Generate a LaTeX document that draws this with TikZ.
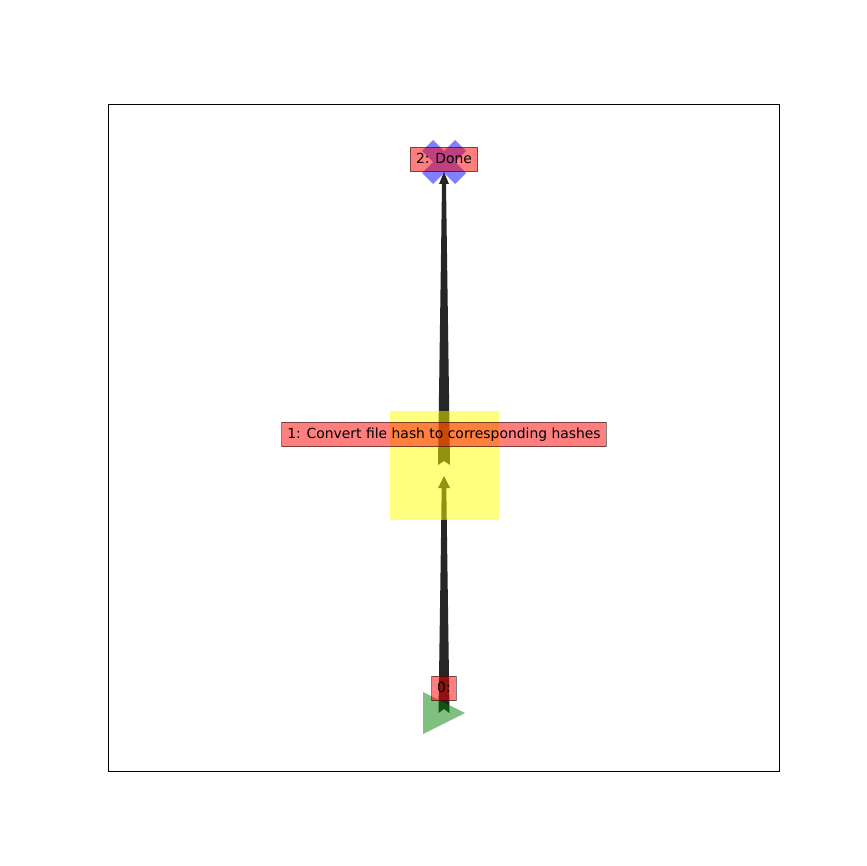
\documentclass[tikz,border=0pt]{standalone}
\usepackage{fontspec}
\setmainfont{DejaVu Sans}
\usetikzlibrary{calc}

\definecolor{mplred}{RGB}{255,0,0}
\definecolor{mplgreen}{RGB}{0,128,0}
\definecolor{mplyellow}{RGB}{255,255,0}
\definecolor{mplblue}{RGB}{0,0,255}

\tikzset{
  lbl/.style={fill=mplred, fill opacity=0.5, draw=black, draw opacity=0.5,
    text opacity=1, line width=1pt, inner xsep=5.6pt, inner ysep=5.5pt,
    text height=10.6pt, text depth=3.3pt, font=\fontsize{13.9}{16}\selectfont},
  edgefill/.style={fill=black!85},
  startmark/.style={fill=mplgreen, fill opacity=0.5},
  stepmark/.style={fill=mplyellow, fill opacity=0.5},
  endmark/.style={fill=mplblue, fill opacity=0.5}
}

\begin{document}
\begin{tikzpicture}[x=1pt,y=-1pt]
    \useasboundingbox[fill=white] (0,0) rectangle (866,866);

    % axes frame
    \draw[line width=0.9pt] (108,104) rectangle (779,771);

    % node positions
    \coordinate (n0) at (444,713);
    \coordinate (n1) at (444,465);
    \coordinate (n2) at (444,162);

    % tapered edges
    \foreach \a/\b/\w/\h/\s/\tip in {n0/n1/5.5/6/2.3/11, n1/n2/6/5/2/10} {
        \fill[edgefill] ($(\a)+(-\w,0)$) -- ($(\a)+(0,-4)$) -- ($(\a)+(\w,0)$)
            -- ($(\b)+(\s,\tip+12)$) -- ($(\b)+(\h,\tip+12)$) -- ($(\b)+(0,\tip)$)
            -- ($(\b)+(-\h,\tip+12)$) -- ($(\b)+(-\s,\tip+12)$) -- cycle;
    }

    % node markers
    \fill[startmark] ($(n0)+(-21,-21)$) -- ($(n0)+(21,0)$) -- ($(n0)+(-21,21)$) -- cycle;
    \fill[stepmark] ($(n1)+(-54.5,-54.5)$) rectangle ($(n1)+(54.5,54.5)$);
    \fill[endmark, shift={(n2)}] (-11,-22) -- (0,-11) -- (11,-22) -- (22,-11) -- (11,0)
        -- (22,11) -- (11,22) -- (0,11) -- (-11,22) -- (-22,11) -- (-11,0) -- (-22,-11) -- cycle;

    % labels
    \node[lbl] (l0) at ($(n0)+(0,-24.5)$) {0:\hspace{4.4pt}};
    \node[lbl] (l1) at ($(n1)+(0,-30.5)$) {1: Convert file hash to corresponding hashes};
    \node[lbl] (l2) at ($(n2)+(0,-2.5)$) {2: Done};
\end{tikzpicture}
\end{document}
